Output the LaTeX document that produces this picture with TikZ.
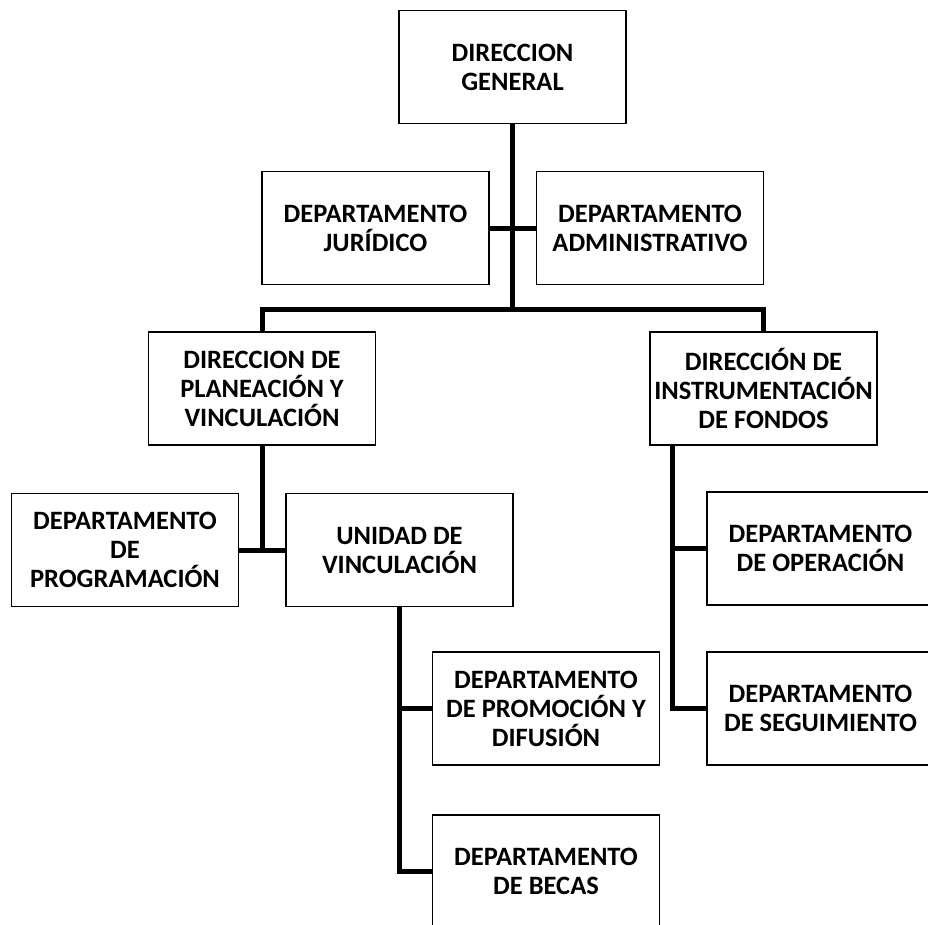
\documentclass[tikz,border=0pt]{standalone}
\usepackage{fontspec}
\setmainfont{Carlito}
\begin{document}
\begin{tikzpicture}[x=1pt,y=-1pt,
  box/.style={draw=black,line width=1.8pt,fill=white,minimum width=227pt,minimum height=113pt,
    inner sep=0pt,align=center,font=\fontsize{26.5}{29}\selectfont\bfseries},
  conn/.style={line width=5pt,line join=miter,line cap=butt}]
\useasboundingbox[fill=white] (0,0) rectangle (928,924);
\node[box] (dg)   at (512.5,67)  {DIRECCION\\GENERAL};
\node[box] (jur)  at (375.5,228) {DEPARTAMENTO\\JURÍDICO};
\node[box] (adm)  at (650,228)   {DEPARTAMENTO\\ADMINISTRATIVO};
\node[box] (plan) at (262,388.5) {DIRECCION DE\\PLANEACIÓN Y\\VINCULACIÓN};
\node[box] (inst) at (763.5,388.5) {DIRECCIÓN DE\\INSTRUMENTACIÓN\\DE FONDOS};
\node[box] (prog) at (125,550)   {DEPARTAMENTO\\DE\\PROGRAMACIÓN};
\node[box] (unid) at (399.5,550) {UNIDAD DE\\VINCULACIÓN};
\node[box] (oper) at (820.5,548.5) {DEPARTAMENTO\\DE OPERACIÓN};
\node[box] (prom) at (546,708.5) {DEPARTAMENTO\\DE PROMOCIÓN Y\\DIFUSIÓN};
\node[box] (segu) at (820.5,708.5) {DEPARTAMENTO\\DE SEGUIMIENTO};
\node[box] (becas) at (546,871.5) {DEPARTAMENTO\\DE BECAS};
\coordinate (bus) at (512.5,309);
\coordinate (ivert) at ([xshift=23pt]inst.south west);
% trunk
\draw[conn] (dg.south) -- (bus);
\draw[conn] (jur.east) -- (adm.west);
\draw[conn] (plan.north) |- (bus) -| (inst.north);
% planeacion
\draw[conn] (plan.south) -- (plan.south |- prog.east);
\draw[conn] (prog.east) -- (unid.west);
% unidad
\draw[conn] (unid.south) |- (becas.west);
\draw[conn] (unid.south |- prom.west) -- (prom.west);
% instrumentacion
\draw[conn] (ivert) |- (segu.west);
\draw[conn] (ivert |- oper.west) -- (oper.west);
\end{tikzpicture}
\end{document}
